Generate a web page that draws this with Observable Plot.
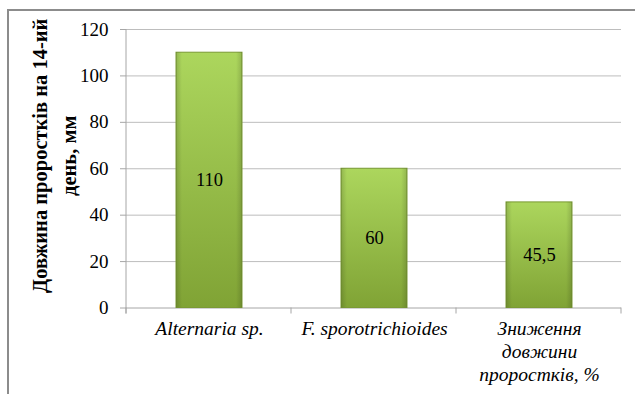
<!DOCTYPE html>
<html><head><meta charset="utf-8">
<script src="https://cdn.jsdelivr.net/npm/d3@7"></script>
<script src="https://cdn.jsdelivr.net/npm/@observablehq/plot@0.6"></script>
<style>
body{margin:0;width:635px;height:394px;overflow:hidden;background:#fff;position:relative}
#chart{position:absolute;left:0;top:0}
#frame{position:absolute;left:7px;top:9px;width:700px;height:500px;border-top:2px solid #8c8c8c;border-left:2px solid #8c8c8c;box-sizing:border-box;pointer-events:none}
</style></head><body><div id="chart"></div><div id="frame"></div>
<script>
const categories = ["Alternaria sp.", "F. sporotrichioides", "Зниження\nдовжини\nпроростків, %"];
const values = [110, 60, 45.5];
const valueLabels = ["110", "60", "45,5"];
const yTicks = [0, 20, 40, 60, 80, 100, 120];
const yTitle = "Довжина проростків на 14-ий\nдень, мм";

const data = categories.map((c, i) => ({cat: c, value: values[i], label: valueLabels[i]}));
const serif = "Liberation Serif";
const axisGray = "#a6a6a6";

const decorations = (index, scales, vals, dim) => {
  const g = d3.create("svg:g");
  const defs = g.append("defs");
  const v = defs.append("linearGradient").attr("id", "barGrad").attr("x1", 0).attr("y1", 0).attr("x2", 0).attr("y2", 1);
  v.append("stop").attr("offset", "0%").attr("stop-color", "#acd65d");
  v.append("stop").attr("offset", "100%").attr("stop-color", "#80a335");
  const h = defs.append("linearGradient").attr("id", "barEdge").attr("x1", 0).attr("y1", 0).attr("x2", 1).attr("y2", 0);
  h.append("stop").attr("offset", "0%").attr("stop-color", "#000").attr("stop-opacity", 0.15);
  h.append("stop").attr("offset", "9%").attr("stop-color", "#000").attr("stop-opacity", 0);
  h.append("stop").attr("offset", "91%").attr("stop-color", "#000").attr("stop-opacity", 0);
  h.append("stop").attr("offset", "100%").attr("stop-color", "#000").attr("stop-opacity", 0.15);
  const x0 = dim.marginLeft, x1 = dim.width - dim.marginRight;
  const yb = dim.height - dim.marginBottom;
  const n = categories.length;
  for (let i = 0; i <= n; i++) {
    const x = x0 + (x1 - x0) * i / n;
    g.append("line").attr("x1", x).attr("x2", x).attr("y1", yb).attr("y2", yb + 6).attr("stroke", axisGray);
  }
  g.append("line").attr("x1", x0).attr("x2", x0).attr("y1", dim.marginTop).attr("y2", yb + 6).attr("stroke", axisGray);
  return g.node();
};

const chart = Plot.plot({
  width: 635,
  height: 394,
  marginLeft: 126,
  marginRight: 14,
  marginTop: 29,
  marginBottom: 86.5,
  style: {fontFamily: serif, background: "transparent", color: "#000"},
  x: {domain: categories, paddingInner: 0.6, paddingOuter: 0.3, label: null},
  y: {domain: [0, 120], label: null},
  marks: [
    Plot.ruleY(yTicks.slice(1), {stroke: "#bdbdbd"}),
    Plot.ruleY([0], {stroke: axisGray}),
    decorations,
    Plot.axisY({ticks: yTicks, tickSize: 6, tickPadding: 12, fontSize: 19, fontFamily: serif, stroke: axisGray, label: null}),
    Plot.axisX({tickSize: 0, tickPadding: 11, fontSize: 19.5, fontFamily: serif, fontStyle: "italic", lineHeight: 1.18, label: null}),
    Plot.barY(data, {x: "cat", y: "value", fill: "url(#barGrad)", stroke: "#7a9a34", strokeWidth: 1}),
    Plot.barY(data, {x: "cat", y: "value", fill: "url(#barEdge)"}),
    Plot.text(data, {x: "cat", y: d => d.value / 2, text: "label", fontSize: 18.5, fontFamily: serif, fill: "#000"}),
    Plot.text([yTitle], {frameAnchor: "left", textAnchor: "middle", lineAnchor: "middle", rotate: -90, dx: -74, dy: -13, fontSize: 20.5, fontFamily: serif, fontWeight: "bold", lineHeight: 1.37, fill: "#000"})
  ]
});
document.getElementById("chart").appendChild(chart);
</script>
</body></html>
